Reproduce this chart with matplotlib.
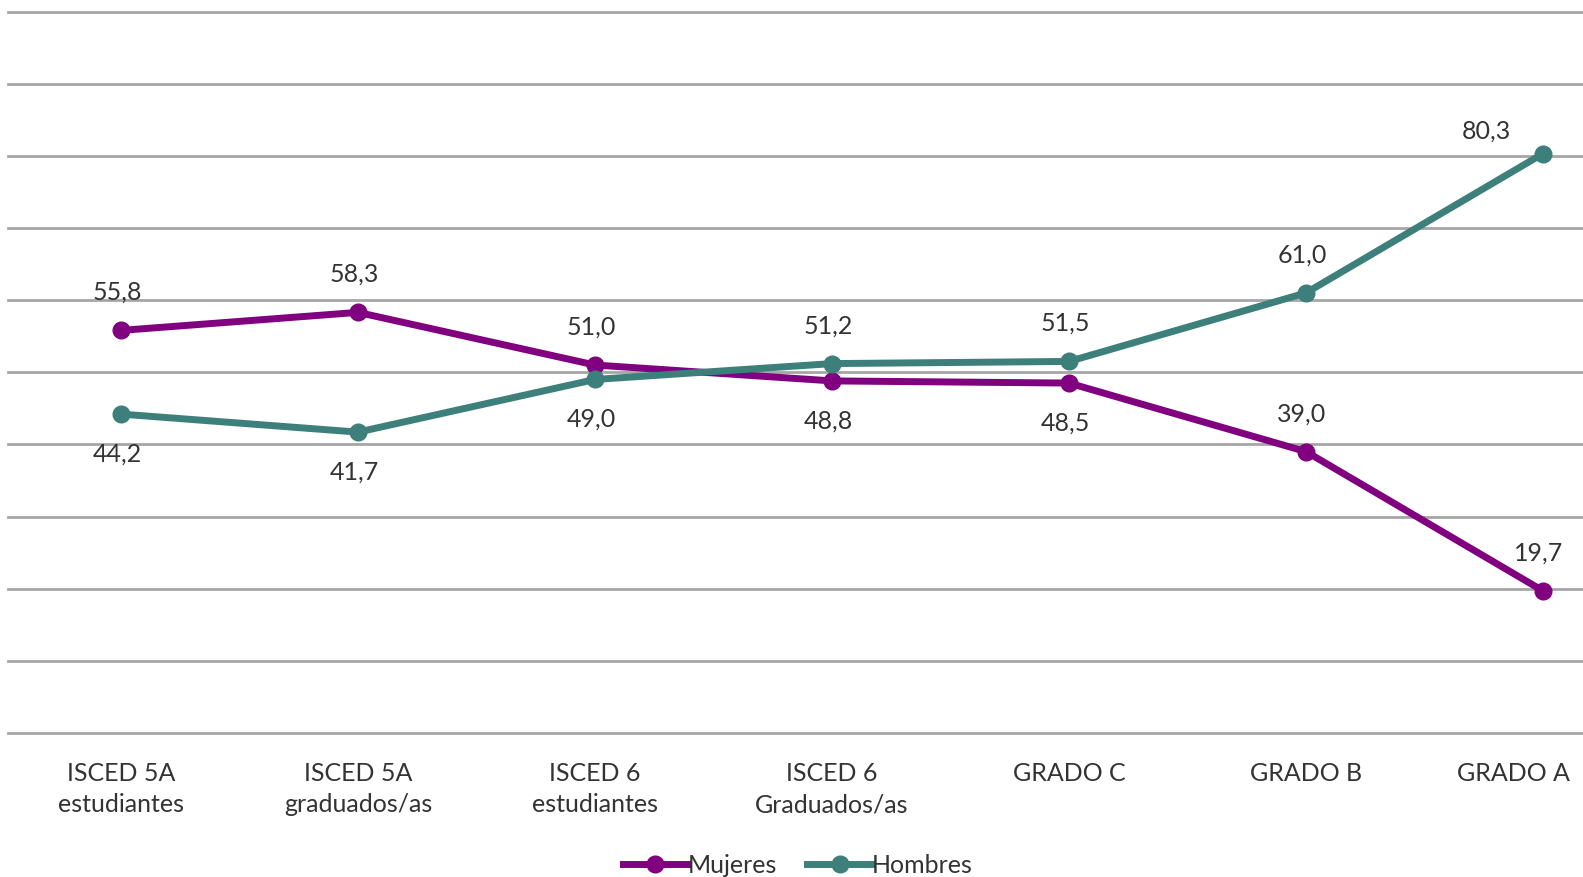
import matplotlib.pyplot as plt
import matplotlib.transforms as mtransforms
from matplotlib.lines import Line2D

categories = ['ISCED 5A\nestudiantes', 'ISCED 5A\ngraduados/as', 'ISCED 6\nestudiantes',
              'ISCED 6\nGraduados/as', 'GRADO C', 'GRADO B', 'GRADO A']
mujeres = [55.8, 58.3, 51.0, 48.8, 48.5, 39.0, 19.7]
hombres = [44.2, 41.7, 49.0, 51.2, 51.5, 61.0, 80.3]

purple = '#800080'
teal = '#3D7F7A'
grid_col = '#A6A6A6'
text_col = '#333333'

# where each data label sits: +1 above the point, -1 below
side_m = [1, 1, 1, -1, -1, 1, 1]
side_h = [-1, -1, -1, 1, 1, 1, 1]

plt.rcParams['font.family'] = ['Lato', 'DejaVu Sans']
fs = 18

W, H = 1583, 878
fig = plt.figure(figsize=(W / 100, H / 100), dpi=100)

# plot area in pixels: x=0 sits at 121 px, one category = 237 px; wider than the figure (cropped on the right)
left_px, bottom_px, top_px = 8, 144, 12.5
unit = 237
x0_px = 121
xmin = -(x0_px - left_px) / unit
xmax = 6.5
width_px = (xmax - xmin) * unit
ax = fig.add_axes([left_px / W, bottom_px / H, width_px / W, (H - bottom_px - top_px) / H])
ax.set_xlim(xmin, xmax)
ax.set_ylim(0, 100)
for s in ax.spines.values():
    s.set_visible(False)
ax.set_yticks([])
ax.tick_params(axis='x', length=0, pad=20, labelsize=fs, labelcolor=text_col)
x = list(range(len(categories)))
ax.set_xticks(x)
ax.set_xticklabels(categories, linespacing=1.45)
for t in ax.get_xticklabels():
    t.set_va('top')
# last label would run off the right edge, nudge it left so it stays readable
last = ax.get_xticklabels()[-1]
last.set_transform(last.get_transform() + mtransforms.ScaledTranslation(-0.3, 0, fig.dpi_scale_trans))

for v in range(0, 101, 10):
    ax.axhline(v, color=grid_col, lw=2, zorder=0, clip_on=False)

ax.plot(x, mujeres, color=purple, lw=5, marker='o', ms=12, zorder=3)
ax.plot(x, hombres, color=teal, lw=5, marker='o', ms=12, zorder=3)

for vals, sides in ((mujeres, side_m), (hombres, side_h)):
    for i, (val, sd) in enumerate(zip(vals, sides)):
        dx, dy = -4, 39 * sd
        if i == len(vals) - 1 and sd > 0 and val > 50:
            dx, dy = -57, 24
        ax.annotate(f'{val:.1f}'.replace('.', ','), (i, val), xytext=(dx, dy),
                    textcoords='offset pixels', ha='center', va='center',
                    fontsize=fs, color=text_col, zorder=4)

handles = [Line2D([], [], color=purple, lw=5, marker='o', ms=12),
           Line2D([], [], color=teal, lw=5, marker='o', ms=12)]
fig.legend(handles, ['Mujeres', 'Hombres'], loc='center', bbox_to_anchor=(798 / W, 1 - 866 / H),
           ncol=2, frameon=False, fontsize=fs, handlelength=2.6, handletextpad=0.0,
           columnspacing=1.2, labelcolor=text_col)

fig.savefig('out.png', dpi=100, facecolor='white')
